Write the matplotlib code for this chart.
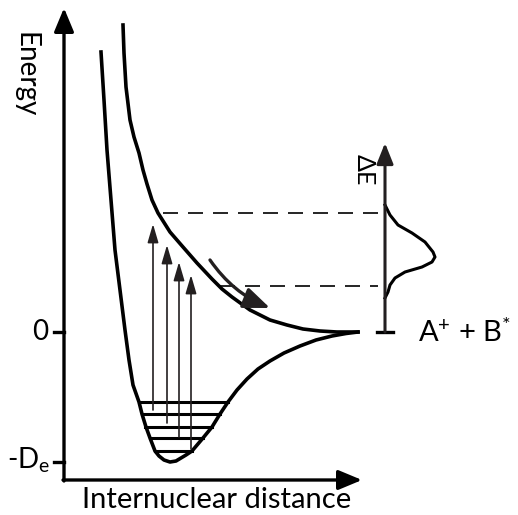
import matplotlib
matplotlib.use("Agg")
import matplotlib.pyplot as plt

plt.rcParams['font.family'] = ['Lato', 'DejaVu Sans']
plt.rcParams['mathtext.fontset'] = 'custom'
plt.rcParams['mathtext.rm'] = 'Lato'
plt.rcParams['mathtext.it'] = 'Lato'
plt.rcParams['lines.scale_dashes'] = False

# ---- data (internuclear distance r, energy E; arbitrary units, E=0 at dissociation) ----
De = 130
ground_r = [37, 40, 43, 47, 51, 56, 61, 65, 69, 75, 78, 82, 86, 91, 95, 100, 106, 112, 117,
            122, 128, 139, 148, 156, 164, 173, 183, 194, 206, 220, 236, 252, 268, 282, 294]
ground_E = [280, 232, 182, 132, 82, 42, 2, -28, -53, -70, -82, -95, -106, -119, -124, -128,
            -130, -129, -126, -123, -119, -106, -95, -82, -70, -58, -47, -37, -29, -21, -14,
            -8, -4, -1.5, 0]
excited_r = [59, 60, 62, 66, 70, 75, 79, 83, 88, 94, 106, 119, 133, 148, 158, 168, 186, 206,
             223, 239, 256, 273, 294]
excited_E = [307, 279, 245, 212, 195, 179, 162, 148, 132, 119, 100, 85, 69, 53, 43, 35, 22, 12,
             7, 3, 1, 0, 0]
level_E = [-70, -82, -95, -106, -119]
level_left = [75, 78, 81, 86, 91]
level_right = [164, 156, 148, 139, 128]
trans_r = [89, 103, 115, 127]
trans_E0 = [-78, -91, -105, -117]
trans_E1 = [108, 87, 70, 57]
window_E = [119, 46]
window_r0 = [99, 156]
window_r1 = [316, 314]
spec_E = [127, 117, 107, 99, 90, 80, 75, 70, 65, 60, 54, 47, 40, 34]
spec_I = [0, 5, 13, 27, 40, 48, 50, 47, 37, 20, 10, 5, 3, 0]
spec_axis_r = 321
spec_axis_top = 189
energy_axis_top = 324
dist_axis_end = 298
axis_bottom = -148
slide_start = (146, 72)
slide_end = (206, 24)

fig = plt.figure(figsize=(5.18, 5.15), dpi=100)
ax = fig.add_axes([0, 0, 1, 1])
ax.set_xlim(-64, 454)
ax.set_ylim(-183, 332)
ax.axis('off')

k = 'black'
# axes
ax.annotate('', xy=(0, energy_axis_top), xytext=(0, axis_bottom - 1),
            arrowprops=dict(arrowstyle='-|>,head_length=0.72,head_width=0.3', lw=2.4,
                            color=k, shrinkA=0, shrinkB=0, mutation_scale=20))
ax.annotate('', xy=(dist_axis_end, axis_bottom), xytext=(-1, axis_bottom),
            arrowprops=dict(arrowstyle='-|>,head_length=0.72,head_width=0.3', lw=2.4,
                            color=k, shrinkA=0, shrinkB=0, mutation_scale=20))
ax.plot([-10, 0], [0, 0], color=k, lw=2.4)
ax.plot([-10, 0], [-De, -De], color=k, lw=2.4)
ax.text(-24, 0, '0', ha='center', va='center', fontsize=20)
ax.text(-35, -128, '-D$_{e}$', ha='center', va='center', fontsize=20)
ax.text(-39, 257, 'Energy', ha='center', va='center', rotation=-90, fontsize=20)
ax.text(153, -168, 'Internuclear distance', ha='center', va='center', fontsize=21)

# curves
ax.plot(ground_r, ground_E, color=k, lw=2.6, solid_joinstyle='round')
ax.plot(excited_r, excited_E, color=k, lw=2.6, solid_joinstyle='round')

# vibrational levels
for e, a, b in zip(level_E, level_left, level_right):
    ax.plot([a, b], [e, e], color=k, lw=2.2)

# transitions
for r, e0, e1 in zip(trans_r, trans_E0, trans_E1):
    ax.annotate('', xy=(r, e1), xytext=(r, e0),
                arrowprops=dict(arrowstyle='-|>,head_length=0.75,head_width=0.22', lw=1.2,
                                color='#231f20', shrinkA=0, shrinkB=0, mutation_scale=15))

# dashed window lines
for e, a, b in zip(window_E, window_r0, window_r1):
    ax.plot([a, b], [e, e], color=k, lw=1.2, linestyle=(0, (10.8, 7.2)))

# slide arrow
ax.annotate('', xy=slide_end, xytext=slide_start,
            arrowprops=dict(arrowstyle='-|>,head_length=0.8,head_width=0.32', lw=2.4,
                            color='#231f20', shrinkA=0, shrinkB=0, mutation_scale=20,
                            connectionstyle='arc3,rad=0.15'))

# energy spectrum axis
ax.annotate('', xy=(spec_axis_r, spec_axis_top), xytext=(spec_axis_r, 0),
            arrowprops=dict(arrowstyle='-|>,head_length=0.7,head_width=0.28', lw=2.2,
                            color='#231f20', shrinkA=0, shrinkB=0, mutation_scale=18))
ax.plot([spec_axis_r - 8, spec_axis_r + 8], [0, 0], color=k, lw=2.4)
ax.plot([spec_axis_r + i for i in spec_I], spec_E, color=k, lw=2.2, solid_joinstyle='round')
ax.text(spec_axis_r - 21, 162, 'ΔE', ha='center', va='center', rotation=-90, fontsize=18)
ax.text(354, 0, 'A$^{+}$ + B$^{*}$', ha='left', va='center', fontsize=21)

fig.savefig('out.png', dpi=100)
